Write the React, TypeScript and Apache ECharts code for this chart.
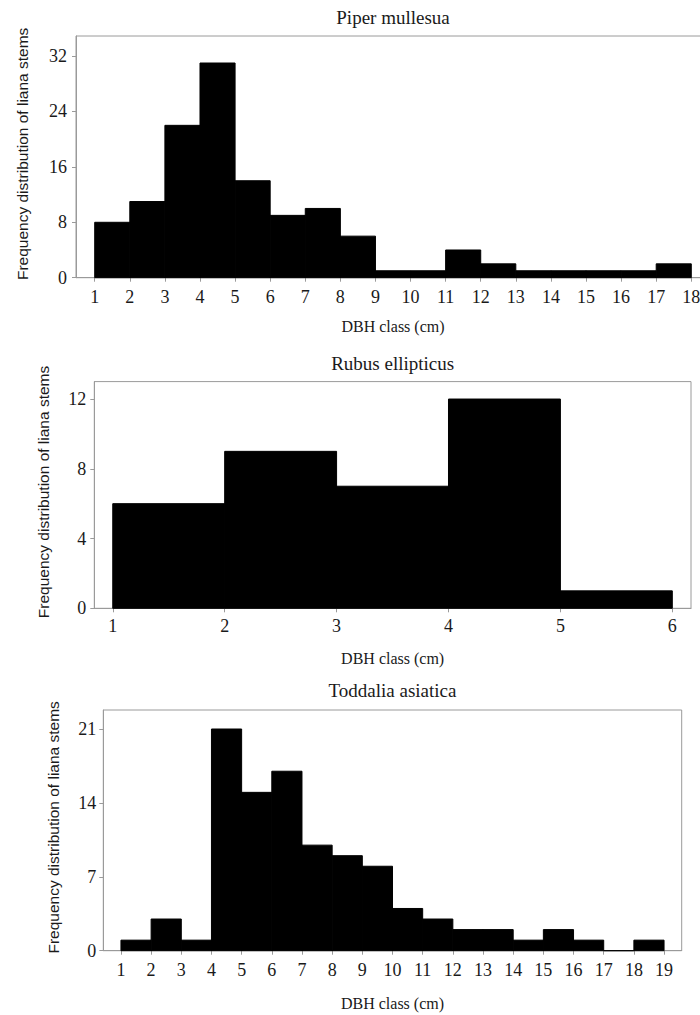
import React, { useEffect, useRef } from "react";
import * as echarts from "echarts";

// ---- data ----
const titles = ["Piper mullesua", "Rubus ellipticus", "Toddalia asiatica"];
const xAxisTitle = "DBH class (cm)";
const yAxisTitle = "Frequency distribution of liana stems";

const piperBinStarts = [1, 2, 3, 4, 5, 6, 7, 8, 9, 10, 11, 12, 13, 14, 15, 16, 17];
const piperCounts = [8, 11, 22, 31, 14, 9, 10, 6, 1, 1, 4, 2, 1, 1, 1, 1, 2];
const piperXTicks = [1, 2, 3, 4, 5, 6, 7, 8, 9, 10, 11, 12, 13, 14, 15, 16, 17, 18];
const piperYTicks = [0, 8, 16, 24, 32];

const rubusBinStarts = [1, 2, 3, 4, 5];
const rubusCounts = [6, 9, 7, 12, 1];
const rubusXTicks = [1, 2, 3, 4, 5, 6];
const rubusYTicks = [0, 4, 8, 12];

const toddaliaBinStarts = [1, 2, 3, 4, 5, 6, 7, 8, 9, 10, 11, 12, 13, 14, 15, 16, 17, 18];
const toddaliaCounts = [1, 3, 1, 21, 15, 17, 10, 9, 8, 4, 3, 2, 2, 1, 2, 1, 0, 1];
const toddaliaXTicks = [1, 2, 3, 4, 5, 6, 7, 8, 9, 10, 11, 12, 13, 14, 15, 16, 17, 18, 19];
const toddaliaYTicks = [0, 7, 14, 21];

const SERIF = "Liberation Serif";
const SANS = "Liberation Sans";
const FRAME = "#9a9a9a";
const TEXT = "#1a1a1a";

const panels = [
  {
    binStarts: piperBinStarts, counts: piperCounts, xTicks: piperXTicks, yTicks: piperYTicks,
    left: 76, top: 36, width: 634, height: 241.7, xMin: 0.467, xMax: 18.533, yMax: 34.9,
    titleY: 17, xNameY: 326, yNameX: 22, xLabelMargin: 10, yLabelMargin: 9,
  },
  {
    binStarts: rubusBinStarts, counts: rubusCounts, xTicks: rubusXTicks, yTicks: rubusYTicks,
    left: 94.3, top: 381.6, width: 596.7, height: 226.7, xMin: 0.835, xMax: 6.167, yMax: 13,
    titleY: 363, xNameY: 658, yNameX: 43, xLabelMargin: 9, yLabelMargin: 8,
  },
  {
    binStarts: toddaliaBinStarts, counts: toddaliaCounts, xTicks: toddaliaXTicks, yTicks: toddaliaYTicks,
    left: 103.3, top: 710, width: 578.4, height: 240.7, xMin: 0.415, xMax: 19.585, yMax: 22.8,
    titleY: 690, xNameY: 1003, yNameX: 53.5, xLabelMargin: 10, yLabelMargin: 7,
  },
];

function textEl(text: string, x: number, y: number, size: number, family: string, rotation = 0) {
  return {
    type: "text",
    x,
    y,
    rotation,
    silent: true,
    style: {
      text,
      fill: TEXT,
      fontSize: size,
      fontFamily: family,
      align: "center",
      verticalAlign: "middle",
      textAlign: "center",
      textVerticalAlign: "middle",
    },
  };
}

export default function App() {
  const ref = useRef<HTMLDivElement>(null);

  useEffect(() => {
    if (!ref.current) return;
    const chart = echarts.init(ref.current, undefined, { renderer: "svg" });

    const grids: any[] = [];
    const xAxes: any[] = [];
    const yAxes: any[] = [];
    const series: any[] = [];
    const graphics: any[] = [];

    panels.forEach((p, i) => {
      grids.push({
        left: p.left,
        top: p.top,
        width: p.width,
        height: p.height,
        show: true,
        borderColor: FRAME,
        borderWidth: 1,
        backgroundColor: "transparent",
        containLabel: false,
      });
      xAxes.push({
        type: "value",
        gridIndex: i,
        min: p.xMin,
        max: p.xMax,
        splitLine: { show: false },
        axisLine: { show: true, lineStyle: { color: FRAME, width: 1 } },
        axisTick: { show: true, length: 4, lineStyle: { color: FRAME }, customValues: p.xTicks },
        axisLabel: {
          customValues: p.xTicks,
          margin: p.xLabelMargin,
          fontFamily: SERIF,
          fontSize: 18,
          color: TEXT,
        },
      });
      yAxes.push({
        type: "value",
        gridIndex: i,
        min: 0,
        max: p.yMax,
        splitLine: { show: false },
        axisLine: { show: true, lineStyle: { color: FRAME, width: 1 } },
        axisTick: { show: true, length: 4, lineStyle: { color: FRAME }, customValues: p.yTicks },
        axisLabel: {
          customValues: p.yTicks,
          margin: p.yLabelMargin,
          fontFamily: SERIF,
          fontSize: 18,
          color: TEXT,
        },
      });
      series.push({
        type: "custom",
        xAxisIndex: i,
        yAxisIndex: i,
        encode: { x: [0, 1], y: 2 },
        data: p.binStarts.map((s, k) => [s, s + 1, p.counts[k]]),
        renderItem: (params: any, api: any) => {
          const x0 = api.value(0);
          const x1 = api.value(1);
          const v = api.value(2);
          const a = api.coord([x0, v]);
          const b = api.coord([x1, 0]);
          return {
            type: "rect",
            shape: { x: a[0], y: a[1], width: b[0] - a[0], height: b[1] - a[1] },
            style: { fill: "#000", stroke: "#000", lineWidth: 1 },
          };
        },
      });
      const cx = p.left + p.width / 2;
      const cy = p.top + p.height / 2;
      graphics.push(textEl(titles[i], cx, p.titleY, 19, SERIF));
      graphics.push(textEl(xAxisTitle, cx, p.xNameY, 16, SERIF));
      graphics.push(textEl(yAxisTitle, p.yNameX, cy - 3, 15.5, SANS, Math.PI / 2));
    });

    chart.setOption({
      animation: false,
      backgroundColor: "#ffffff",
      textStyle: { fontFamily: SERIF },
      grid: grids,
      xAxis: xAxes,
      yAxis: yAxes,
      series,
      graphic: graphics,
    });

    return () => chart.dispose();
  }, []);

  return (
    <div
      style={{
        position: "fixed",
        left: 0,
        top: 0,
        width: 700,
        height: 1015,
        overflow: "hidden",
        background: "#fff",
      }}
    >
      <div ref={ref} style={{ width: 720, height: 1015 }} />
    </div>
  );
}
